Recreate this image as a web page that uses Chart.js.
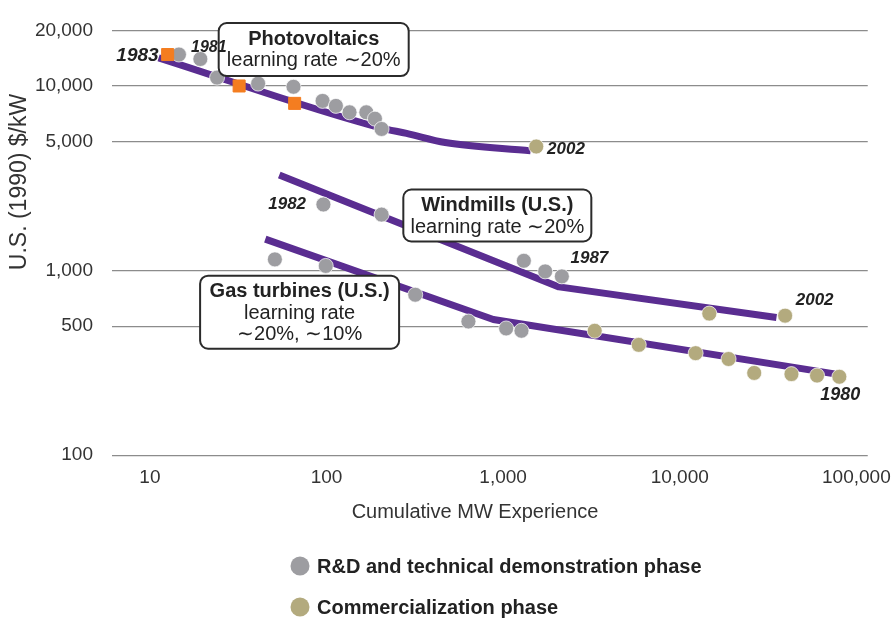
<!DOCTYPE html>
<html>
<head>
<meta charset="utf-8">
<title>Learning curves</title>
<script src="https://cdn.jsdelivr.net/npm/chart.js@4.4.1/dist/chart.umd.min.js"></script>
<style>
  html, body { margin: 0; padding: 0; background: #fff; }
  #wrap { position: relative; width: 894px; height: 619px; }
</style>
</head>
<body>
<div id="wrap"><canvas id="chart1"></canvas></div>
<script>
// Axis ticks
const xTicks = [10, 100, 1000, 10000, 100000];
const yTicks = [100, 500, 1000, 5000, 10000, 20000];

// Photovoltaics (cumulative MW, 1990 $/kW)
const pvRdMW = [14.6, 19.3, 24, 41, 65, 95, 113, 135, 168, 188, 205];
const pvRdCost = [14800, 14000, 11100, 10300, 9900, 8300, 7800, 7200, 7200, 6650, 5850];
const pvSquareMW = [12.6, 32, 66];
const pvSquareCost = [14800, 10000, 8050];
const pvComMW = [1540];
const pvComCost = [4700];
const pvTrendMW = [11.2, 202, 284, 470, 1430];
const pvTrendCost = [14200, 5930, 5535, 4940, 4450];

// Windmills (U.S.)
const windRdMW = [96, 205, 1310, 1730, 2150];
const windRdCost = [2280, 2010, 1130, 990, 930];
const windComMW = [14700, 39500];
const windComCost = [585, 570];
const windTrendMW = [54, 2070, 35300];
const windTrendCost = [3290, 816, 557];

// Gas turbines (U.S.)
const gasRdMW = [51, 99, 318, 636, 1040, 1270];
const gasRdCost = [1150, 1060, 740, 530, 486, 472];
const gasComMW = [3300, 5860, 12300, 18900, 26400, 42900, 59900, 80100];
const gasComCost = [472, 396, 357, 332, 279, 275, 270, 266];
const gasTrendMW = [45, 880, 76900];
const gasTrendCost = [1480, 543, 275];

const PURPLE = "#5a2d91";
const GREY = "#9d9da1";
const TAN = "#b3aa7e";
const ORANGE = "#f47d20";
const FONT = "'Liberation Sans', Arial, Helvetica, sans-serif";

// Text boxes and year tags, anchored in data units
const boxNotes = [
  { x: 84.6, y: 15750, w: 190, h: 53, lines: ["Photovoltaics", "learning rate \u223C20%"] },
  { x: 927, y: 1988, w: 188, h: 52, lines: ["Windmills (U.S.)", "learning rate \u223C20%"] },
  { x: 70.4, y: 595, w: 199, h: 73, lines: ["Gas turbines (U.S.)", "learning rate", "\u223C20%, \u223C10%"] },
];
const yearNotes = [
  { text: "1983", x: 11.2, y: 14500, align: "right", size: 19 },
  { text: "1981", x: 17.1, y: 16130, align: "left", size: 16 },
  { text: "2002", x: 1773, y: 4530, align: "left", size: 17 },
  { text: "1982", x: 76.6, y: 2277, align: "right", size: 17 },
  { text: "1987", x: 2406, y: 1171, align: "left", size: 17 },
  { text: "2002", x: 45360, y: 690, align: "left", size: 17 },
  { text: "1980", x: 62400, y: 211, align: "left", size: 18 },
];

function toPoints(xs, ys) {
  return xs.map((x, i) => ({ x: x, y: ys[i] }));
}

function trend(xs, ys, smooth) {
  return {
    data: toPoints(xs, ys),
    showLine: true,
    borderColor: PURPLE,
    borderWidth: 7,
    borderJoinStyle: "round",
    pointRadius: 0,
    cubicInterpolationMode: smooth ? "monotone" : "default",
    order: 3,
  };
}

function dots(xs, ys, color) {
  return {
    data: toPoints(xs, ys),
    backgroundColor: color,
    borderColor: "rgba(255,255,255,0.7)",
    borderWidth: 1,
    pointRadius: 7.5,
    order: 2,
  };
}

const notesPlugin = {
  id: "notes",
  afterDatasetsDraw(chart) {
    const ctx = chart.ctx;
    const x = chart.scales.x;
    const y = chart.scales.y;
    ctx.save();
    boxNotes.forEach((b) => {
      const cx = x.getPixelForValue(b.x);
      const cy = y.getPixelForValue(b.y);
      const top = cy - b.h / 2;
      ctx.beginPath();
      ctx.roundRect(cx - b.w / 2, top, b.w, b.h, 8);
      ctx.fillStyle = "#fff";
      ctx.fill();
      ctx.lineWidth = 2;
      ctx.strokeStyle = "#2b2b2b";
      ctx.stroke();
      ctx.fillStyle = "#222";
      ctx.textAlign = "center";
      ctx.textBaseline = "middle";
      b.lines.forEach((line, i) => {
        ctx.font = (i === 0 ? "bold " : "") + "20px " + FONT;
        ctx.fillText(line, cx, top + 16 + i * 21.5);
      });
    });
    yearNotes.forEach((n) => {
      ctx.font = "italic bold " + n.size + "px " + FONT;
      ctx.fillStyle = "#222";
      ctx.textAlign = n.align;
      ctx.textBaseline = "middle";
      ctx.fillText(n.text, x.getPixelForValue(n.x), y.getPixelForValue(n.y));
    });
    ctx.restore();
  },
  afterDraw(chart) {
    const ctx = chart.ctx;
    ctx.save();
    ctx.fillStyle = "#333";
    ctx.textAlign = "center";
    ctx.textBaseline = "middle";
    // axis titles
    ctx.font = "20px " + FONT;
    ctx.fillText("Cumulative MW Experience", 475, 512);
    ctx.translate(20, 182);
    ctx.rotate(-Math.PI / 2);
    ctx.font = "23px " + FONT;
    ctx.fillText("U.S. (1990) $/kW", 0, 0);
    ctx.restore();

    // legend
    const legend = [
      ["R&D and technical demonstration phase", GREY],
      ["Commercialization phase", TAN],
    ];
    ctx.save();
    legend.forEach((item, i) => {
      const ly = 566 + i * 41;
      ctx.beginPath();
      ctx.arc(300, ly, 9.5, 0, Math.PI * 2);
      ctx.fillStyle = item[1];
      ctx.fill();
      ctx.font = "bold 20px " + FONT;
      ctx.fillStyle = "#222";
      ctx.textAlign = "left";
      ctx.textBaseline = "middle";
      ctx.fillText(item[0], 317, ly + 1);
    });
    ctx.restore();
  },
};

const ctx = document.getElementById("chart1");
new Chart(ctx, {
  type: "scatter",
  data: {
    datasets: [
      trend(pvTrendMW, pvTrendCost, true),
      trend(windTrendMW, windTrendCost, false),
      trend(gasTrendMW, gasTrendCost, false),
      dots(pvRdMW, pvRdCost, GREY),
      dots(windRdMW, windRdCost, GREY),
      dots(gasRdMW, gasRdCost, GREY),
      dots(pvComMW, pvComCost, TAN),
      dots(windComMW, windComCost, TAN),
      dots(gasComMW, gasComCost, TAN),
      {
        data: toPoints(pvSquareMW, pvSquareCost),
        pointStyle: "rect",
        backgroundColor: ORANGE,
        borderColor: ORANGE,
        pointRadius: 8.5,
        order: 1,
      },
    ],
  },
  options: {
    responsive: true,
    maintainAspectRatio: false,
    animation: false,
    layout: {
      padding: { left: 30, right: 20, top: 24, bottom: 127 },
    },
    plugins: {
      legend: { display: false },
      tooltip: { enabled: false },
    },
    scales: {
      x: {
        type: "logarithmic",
        min: 6.1,
        max: 116000,
        afterBuildTicks: (scale) => {
          scale.ticks = xTicks.map((v) => ({ value: v }));
        },
        grid: { display: false },
        border: { display: false },
        ticks: {
          autoSkip: false,
          maxRotation: 0,
          padding: 3,
          color: "#333",
          font: { family: FONT, size: 19 },
          callback: (v) => Number(v).toLocaleString("en-US"),
        },
      },
      y: {
        type: "logarithmic",
        min: 100,
        max: 20000,
        afterBuildTicks: (scale) => {
          scale.ticks = yTicks.map((v) => ({ value: v }));
        },
        afterFit: (scale) => {
          scale.width = 82;
        },
        grid: { color: "#8c8c8c", lineWidth: 1.2, drawTicks: false },
        border: { display: false },
        ticks: {
          autoSkip: false,
          padding: 19,
          color: "#333",
          font: { family: FONT, size: 19 },
          callback: (v) => Number(v).toLocaleString("en-US"),
        },
      },
    },
  },
  plugins: [notesPlugin],
});
</script>
</body>
</html>
